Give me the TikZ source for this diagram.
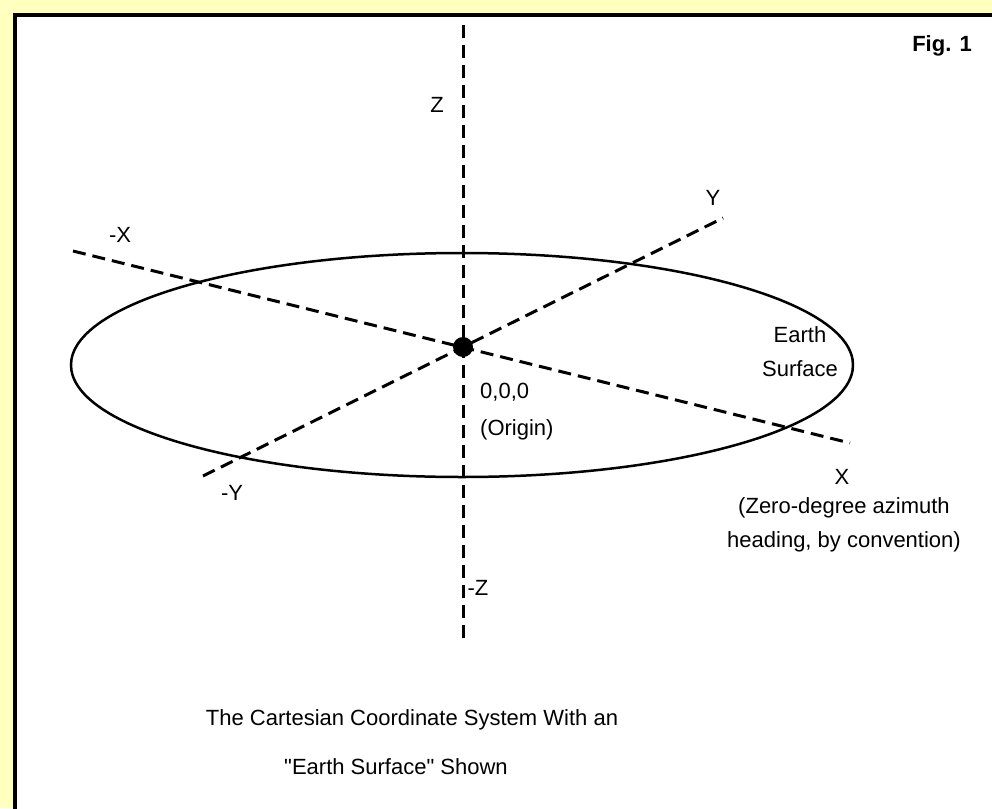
\documentclass[tikz,border=0pt]{standalone}
\usepackage{fontspec}
\setmainfont{Liberation Sans}
\usetikzlibrary{positioning}
\definecolor{paleyellow}{HTML}{FFFFC0}
\tikzset{axis/.style={line width=3pt,dash pattern=on 13pt off 7pt},surface/.style={line width=2.5pt},lbl/.style={inner sep=0pt,align=center,font=\fontsize{22}{34}\selectfont}}

\begin{document}
\begin{tikzpicture}[x=1pt,y=-1pt]
\useasboundingbox (0,0) rectangle (992,808);
\fill[paleyellow] (0,0) rectangle (992,808);
\begin{scope}
\clip (0,0) rectangle (992,808);
\draw[line width=4pt,fill=white] (15,15) rectangle (1010,830);
\end{scope}
% axes
\coordinate (o) at (463,347);
\coordinate (ztop) at (463,25);
\coordinate (zbot) at (463,640);
\coordinate (xneg) at (73,251);
\coordinate (xpos) at (850,443);
\coordinate (yneg) at (203,476);
\coordinate (ypos) at (723,218);
\draw[surface] (462,365) ellipse [x radius=391, y radius=112];
\draw[axis] (ztop) -- (zbot);
\draw[axis] (xneg) -- (xpos);
\draw[axis] (yneg) -- (ypos);
\fill (o) circle [radius=10pt];
% labels
\node[lbl] (zlbl) at (437,105) {Z};
\node[lbl] (mzlbl) at (478,588) {-Z};
\node[lbl] (mxlbl) at (120,235) {-X};
\node[lbl] (xlbl) at (842,477) {X};
\node[lbl] (ylbl) at (713,198) {Y};
\node[lbl] (mylbl) at (232,493) {-Y};
\node[lbl] (xnote) at (844,525) {(Zero-degree azimuth\\heading, by convention)};
\node[lbl] (earth) at (800,352) {Earth\\Surface};
\node[lbl,align=left,anchor=west,font=\fontsize{22}{37}\selectfont] (origin) at (480,412) {0,0,0\\(Origin)};
\node[lbl,font=\bfseries\fontsize{22}{27}\selectfont] (fig) at (942,46) {Fig. 1};
\node[lbl] (cap1) at (412,720) {The Cartesian Coordinate System With an};
\node[lbl] (cap2) at (396,767) {\textquotedbl Earth Surface\textquotedbl\ Shown};
\end{tikzpicture}
\end{document}
